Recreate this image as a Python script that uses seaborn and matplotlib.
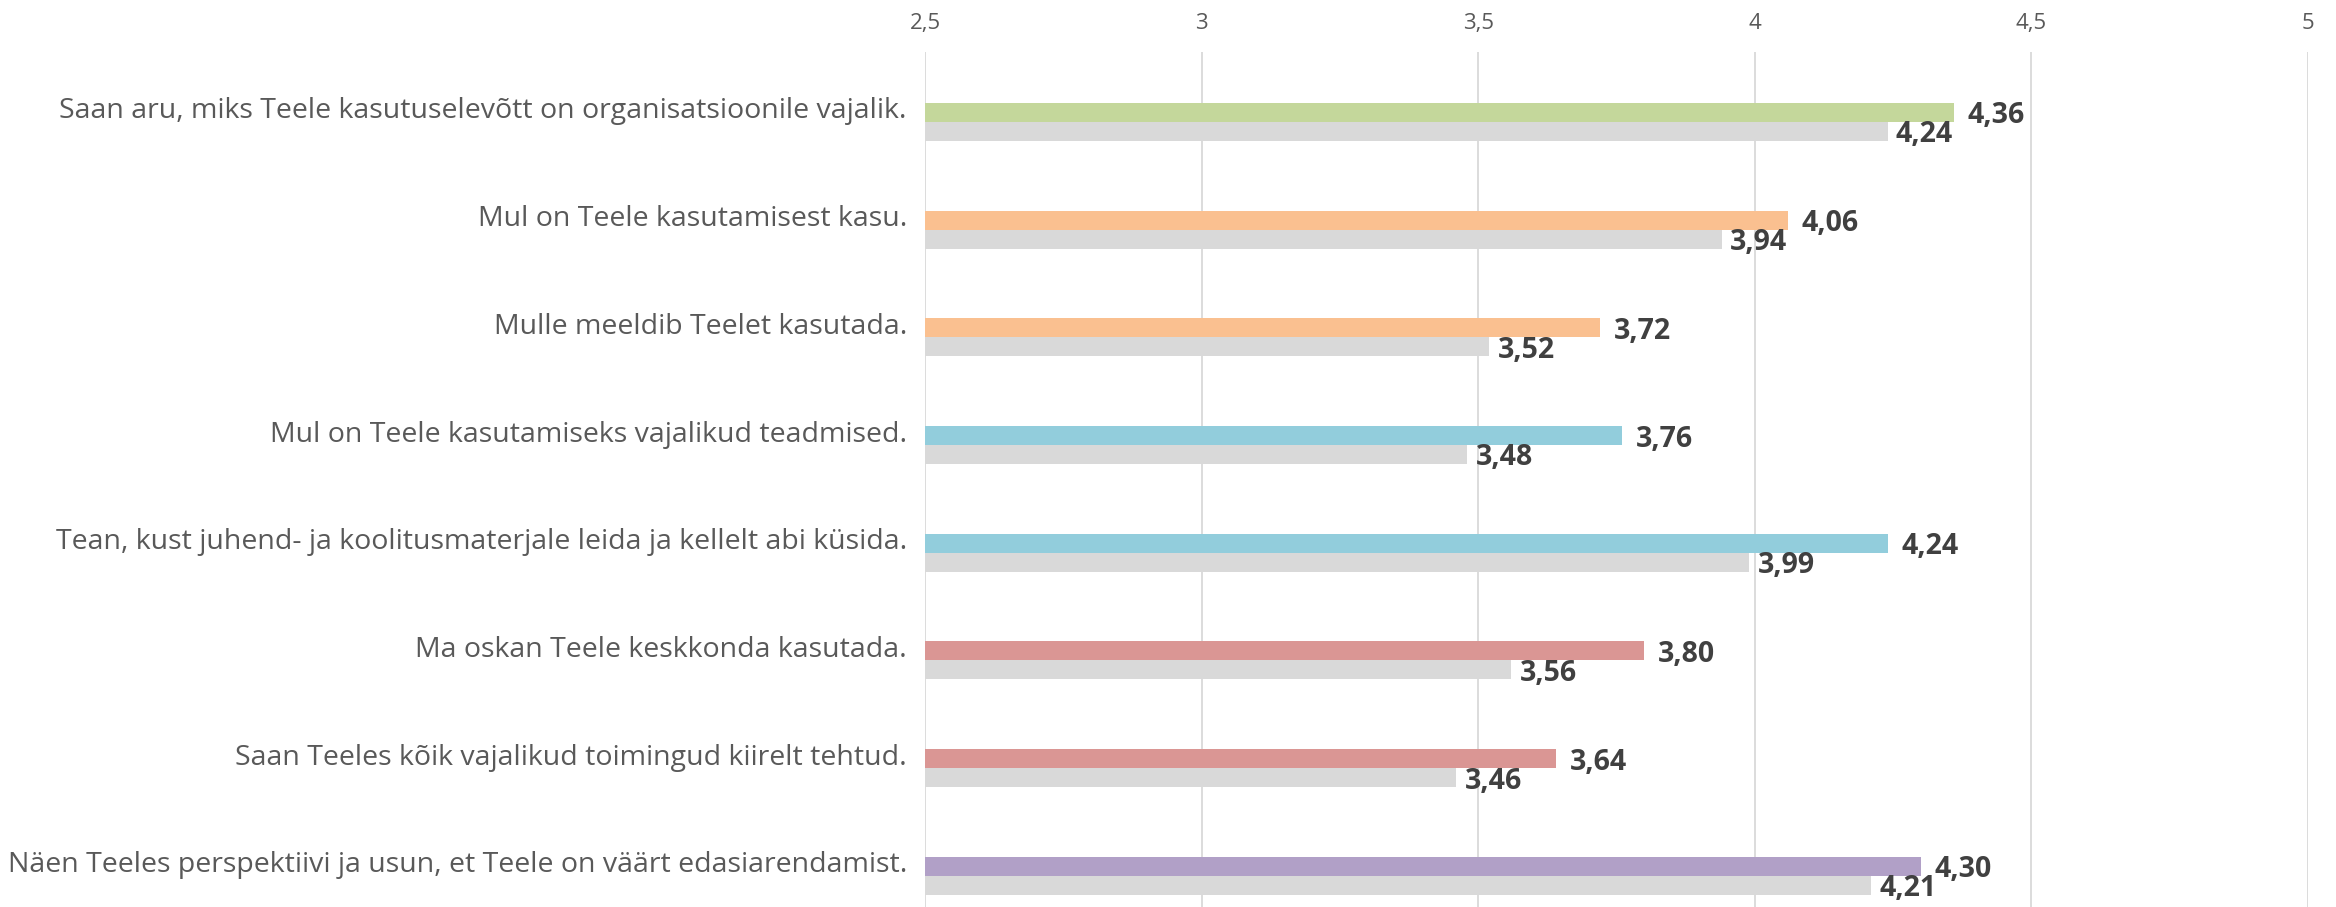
import matplotlib
matplotlib.use("Agg")
import matplotlib.pyplot as plt
import seaborn as sns
import pandas as pd
import numpy as np

categories = [
    "Saan aru, miks Teele kasutuselevõtt on organisatsioonile vajalik.",
    "Mul on Teele kasutamisest kasu.",
    "Mulle meeldib Teelet kasutada.",
    "Mul on Teele kasutamiseks vajalikud teadmised.",
    "Tean, kust juhend- ja koolitusmaterjale leida ja kellelt abi küsida.",
    "Ma oskan Teele keskkonda kasutada.",
    "Saan Teeles kõik vajalikud toimingud kiirelt tehtud.",
    "Näen Teeles perspektiivi ja usun, et Teele on väärt edasiarendamist.",
]
current_values = [4.36, 4.06, 3.72, 3.76, 4.24, 3.80, 3.64, 4.30]
previous_values = [4.24, 3.94, 3.52, 3.48, 3.99, 3.56, 3.46, 4.21]
current_colors = ["#C4D79B", "#FAC090", "#FAC090", "#92CDDC", "#92CDDC",
                  "#DA9694", "#DA9694", "#B1A0C7"]
previous_color = "#D9D9D9"
tick_values = [2.5, 3, 3.5, 4, 4.5, 5]
tick_labels = ["2,5", "3", "3,5", "4", "4,5", "5"]

sns.set_theme(style="white")
plt.rcParams["font.family"] = ["Open Sans", "DejaVu Sans"]

df = pd.DataFrame({
    "cat": categories * 2,
    "val": current_values + previous_values,
    "series": ["current"] * len(categories) + ["previous"] * len(categories),
})

fig = plt.figure(figsize=(23.36, 9.07), dpi=100)
ax = fig.add_axes([925 / 2336, 0.0, (2308 - 925) / 2336, 1 - 52 / 907])

sns.barplot(data=df, x="val", y="cat", hue="series", orient="h",
            palette={"current": current_colors[0], "previous": previous_color},
            width=0.352, dodge=True, legend=False, ax=ax, saturation=1,
            errorbar=None)

n = len(categories)
patches = ax.patches
for i, p in enumerate(patches[:n]):
    p.set_facecolor(current_colors[i])
    p.set_edgecolor("none")
for p in patches[n:2 * n]:
    p.set_edgecolor("none")

# bars start at 2.5
for p in patches[:2 * n]:
    w = p.get_width()
    p.set_x(2.5)
    p.set_width(w - 2.5)

ax.set_xlim(2.5, 5)
ax.set_ylim(7.29, -0.65)
ax.set_yticks(np.arange(n) - 0.13)
ax.set_yticklabels(categories, fontsize=20.5, color="#595959")
ax.tick_params(axis="y", length=0, pad=13)

ax.set_xticks(tick_values)
ax.set_xticklabels(tick_labels, fontsize=16, color="#595959")
ax.xaxis.tick_top()
ax.tick_params(axis="x", length=0, pad=13)
ax.set_xlabel("")
ax.set_ylabel("")
ax.grid(axis="x", color="#D9D9D9", linewidth=1.3)
ax.grid(axis="y", visible=False)
ax.set_axisbelow(True)
for s in ax.spines.values():
    s.set_visible(False)

for i, p in enumerate(patches[:n]):
    yc = p.get_y() + p.get_height() / 2
    ax.annotate(f"{current_values[i]:.2f}".replace(".", ","),
                xy=(current_values[i], yc), xytext=(10, -2.5),
                textcoords="offset points", ha="left", va="center",
                fontsize=20.5, fontweight="bold", color="#404040")
for i, p in enumerate(patches[n:2 * n]):
    yc = p.get_y() + p.get_height() / 2
    ax.annotate(f"{previous_values[i]:.2f}".replace(".", ","),
                xy=(previous_values[i], yc), xytext=(6, -2.5),
                textcoords="offset points", ha="left", va="center",
                fontsize=20.5, fontweight="bold", color="#404040")

fig.savefig("out.png", dpi=100, facecolor="white")
